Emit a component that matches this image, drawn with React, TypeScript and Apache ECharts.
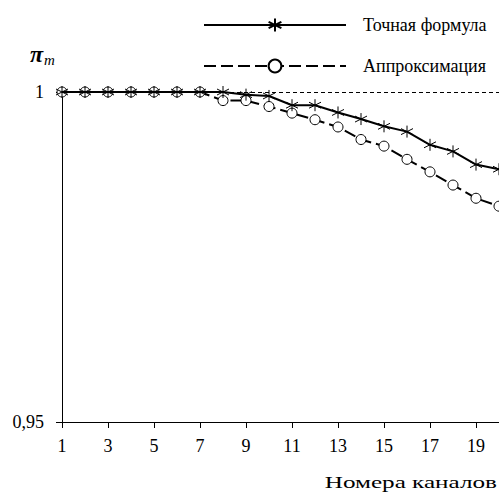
import React, { useEffect, useRef } from "react";
import * as echarts from "echarts";

const channels = ["1","2","3","4","5","6","7","8","9","10","11","12","13","14","15","16","17","18","19","20"];
const exactValues = [1, 1, 1, 1, 1, 1, 1, 1.0, 0.9996, 0.9994, 0.998, 0.998, 0.9969, 0.9959, 0.9948, 0.994, 0.992, 0.991, 0.989, 0.9883];
const approxValues = [1, 1, 1, 1, 1, 1, 1, 0.9987, 0.9987, 0.9978, 0.9968, 0.9958, 0.9947, 0.9928, 0.9918, 0.9898, 0.9879, 0.9859, 0.9839, 0.9827];
const seriesNames = ["Точная формула", "Аппроксимация"];
const yTicks = [0.95, 1];
const xTitle = "Номера каналов";

const STAR = "path://M5,0L5,10M0.67,2.5L9.33,7.5M0.67,7.5L9.33,2.5";
const SERIF = "Liberation Serif";

export default function App() {
  const ref = useRef<HTMLDivElement>(null);
  useEffect(() => {
    if (!ref.current) return;
    const chart = echarts.init(ref.current, null, { renderer: "svg" });
    chart.setOption({
      animation: false,
      backgroundColor: "#fff",
      grid: { left: 62, right: -4, top: 92, bottom: 71, containLabel: false },
      legend: {
        orient: "vertical",
        left: 198,
        top: 11,
        itemWidth: 142,
        itemHeight: 16,
        itemGap: 23,
        data: seriesNames,
        textStyle: { fontFamily: SERIF, fontSize: 18, color: "#000", padding: [0, 0, 0, 12] },
      },
      xAxis: {
        type: "category",
        data: channels,
        boundaryGap: false,
        axisLine: { lineStyle: { color: "#000", width: 1 } },
        axisTick: { show: true, interval: 1, length: 6, lineStyle: { color: "#000" } },
        axisLabel: { interval: 1, margin: 15, color: "#000", fontFamily: SERIF, fontSize: 18 },
        splitLine: { show: false },
      },
      yAxis: {
        type: "value",
        min: yTicks[0],
        max: yTicks[1],
        interval: 0.05,
        axisLine: { show: true, lineStyle: { color: "#000", width: 1 } },
        axisTick: { show: true, length: 6, lineStyle: { color: "#000" } },
        axisLabel: {
          margin: 18,
          color: "#000",
          fontFamily: SERIF,
          fontSize: 18,
          formatter: (v: number) => (Math.abs(v - 1) < 1e-9 ? "1" : String(Math.round(v * 100) / 100).replace(".", ",")),
        },
        splitLine: { show: true, lineStyle: { color: "#000", width: 1, type: [4, 3] } },
      },
      graphic: [
        {
          type: "text",
          left: 30,
          top: 42,
          style: {
            text: "{p|π}{m|m}",
            rich: {
              p: { fontFamily: SERIF, fontSize: 24, fontStyle: "italic", fontWeight: "bold", fill: "#000" },
              m: { fontFamily: SERIF, fontSize: 15, fontStyle: "italic", fill: "#000", padding: [12, 0, 0, 1] },
            },
          },
        },
        {
          type: "text",
          x: 497,
          y: 474,
          scaleX: 1.48,
          originX: 0,
          originY: 0,
          style: { text: xTitle, fontFamily: SERIF, fontSize: 17, fill: "#000", align: "right", verticalAlign: "top" },
        },
      ],
      series: [
        {
          name: seriesNames[0],
          type: "line",
          data: exactValues,
          symbol: STAR,
          symbolSize: 12,
          showAllSymbol: true,
          lineStyle: { color: "#000", width: 2, type: "solid" },
          itemStyle: { color: "#000", borderColor: "#000", borderWidth: 1 },
          z: 3,
        },
        {
          name: seriesNames[1],
          type: "line",
          data: approxValues,
          symbol: "circle",
          symbolSize: 10,
          showAllSymbol: true,
          lineStyle: { color: "#000", width: 2, type: [12, 5] },
          itemStyle: { color: "#fff", borderColor: "#000", borderWidth: 1 },
          z: 2,
        },
      ],
    });
    return () => chart.dispose();
  }, []);
  return <div ref={ref} style={{ position: "fixed", left: 0, top: 0, width: 499, height: 493 }} />;
}
